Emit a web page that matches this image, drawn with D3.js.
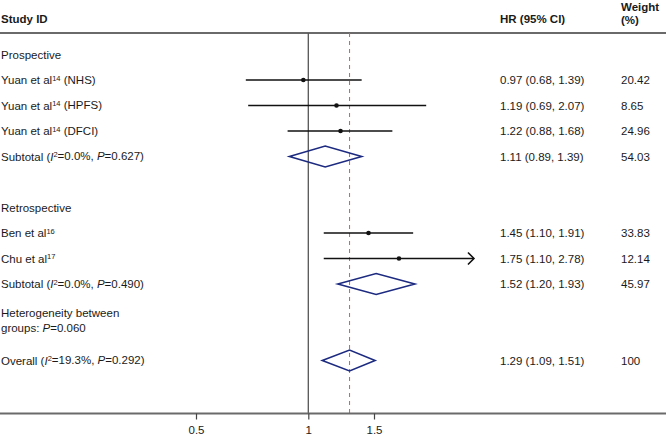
<!DOCTYPE html>
<html><head><meta charset="utf-8">
<script src="https://cdn.jsdelivr.net/npm/d3@7"></script>
<style>
body{margin:0;background:#fff;}
svg text{font-family:"Liberation Sans",Arial,sans-serif;font-size:11.5px;fill:#1a1a1a;}
</style></head>
<body><svg id="c" width="666" height="435"></svg>
<script>
// Studies: label parts (text, style), row, HR, lower, upper, weight
const studyLabels = [
  [["Yuan et al",""],["14","sup"],[" (NHS)",""]],
  [["Yuan et al",""],["14","sup"],[" (HPFS)",""]],
  [["Yuan et al",""],["14","sup"],[" (DFCI)",""]],
  [["Ben et al",""],["16","sup"]],
  [["Chu et al",""],["17","sup"]]
];
const studyRows = [1, 2, 3, 7, 8];
const studyHR = [0.97, 1.19, 1.22, 1.45, 1.75];
const studyLo = [0.68, 0.69, 0.88, 1.10, 1.10];
const studyHi = [1.39, 2.07, 1.68, 1.91, 2.78];
const studyWeight = ["20.42", "8.65", "24.96", "33.83", "12.14"];

const poolLabels = [
  [["Subtotal (",""],["I","it"],["2","sup"],["=0.0%, ",""],["P","it"],["=0.627)",""]],
  [["Subtotal (",""],["I","it"],["2","sup"],["=0.0%, ",""],["P","it"],["=0.490)",""]],
  [["Overall (",""],["I","it"],["2","sup"],["=19.3%, ",""],["P","it"],["=0.292)",""]]
];
const poolRows = [4, 9, 12];
const poolHR = [1.11, 1.52, 1.29];
const poolLo = [0.89, 1.20, 1.09];
const poolHi = [1.39, 1.93, 1.51];
const poolWeight = ["54.03", "45.97", "100"];

const groupLabels = ["Prospective", "Retrospective"];
const groupRows = [0, 6];

const tickValues = [0.5, 1, 1.5];
const overallEffect = 1.29;

const svg = d3.select("#c");
const W = 666;
const x = d3.scaleLog().domain([0.5, 1.5]).range([196, 374]);
const y = d3.scaleLinear().domain([0, 12]).range([54.5, 360.5]);
const topY = 33, axisY = 413.5;
const colHR = 500, colW = 621;
const f2 = v => v.toFixed(2);

function richText(g, parts, xx, yy) {
  const t = g.append("text").attr("x", xx).attr("y", yy).attr("dy", "0.35em");
  parts.forEach(([s, st]) => {
    const ts = t.append("tspan").text(s);
    if (st === "sup") ts.attr("font-size", "7.5px").attr("dy", "-0.45em");
    if (st === "it") ts.attr("font-style", "italic");
  });
  const spans = t.selectAll("tspan").nodes();
  for (let i = 1; i < spans.length; i++) {
    if (parts[i-1][1] === "sup" && parts[i][1] !== "sup") d3.select(spans[i]).attr("dy", "0.29em");
  }
  return t;
}

// headers
svg.append("text").attr("x", 1).attr("y", 19).attr("dy","0.35em").attr("font-weight","bold").text("Study ID");
svg.append("text").attr("x", colHR).attr("y", 19).attr("dy","0.35em").attr("font-weight","bold").text("HR (95% CI)");
svg.append("text").attr("x", colW).attr("y", 7).attr("dy","0.35em").attr("font-weight","bold").text("Weight");
svg.append("text").attr("x", colW).attr("y", 20).attr("dy","0.35em").attr("font-weight","bold").text("(%)");

svg.append("line").attr("x1",0).attr("x2",W).attr("y1",topY).attr("y2",topY).attr("stroke","#6a6a6a").attr("stroke-width",1.8);

// null line
svg.append("line").attr("x1",x(1)).attr("x2",x(1)).attr("y1",topY).attr("y2",axisY).attr("stroke","#555").attr("stroke-width",1.3);
// overall dashed line
svg.append("line").attr("x1",x(overallEffect)).attr("x2",x(overallEffect)).attr("y1",topY).attr("y2",axisY)
  .attr("stroke","#c0606a").attr("stroke-width",1).attr("stroke-dasharray","4,4");

// group labels
groupLabels.forEach((g,i)=>{
  svg.append("text").attr("x",1).attr("y",y(groupRows[i])).attr("dy","0.35em").text(g);
});

// studies
const arrowMax = 2.78;
studyLabels.forEach((lab,i)=>{
  const yy = y(studyRows[i]);
  richText(svg, lab, 1, yy);
  const hi = Math.min(studyHi[i], arrowMax);
  svg.append("line").attr("x1",x(studyLo[i])).attr("x2",x(hi)).attr("y1",yy).attr("y2",yy)
    .attr("stroke","#111").attr("stroke-width",1.6);
  if (i === 4) {
    const xe = x(hi);
    svg.append("path").attr("d",`M${xe-6},${yy-6}L${xe},${yy}L${xe-6},${yy+6}`)
      .attr("fill","none").attr("stroke","#111").attr("stroke-width",1.6);
  }
  svg.append("circle").attr("cx",x(studyHR[i])).attr("cy",yy).attr("r",2.3).attr("fill","#111");
  svg.append("text").attr("x",colHR).attr("y",yy).attr("dy","0.35em")
    .text(`${f2(studyHR[i])} (${f2(studyLo[i])}, ${f2(studyHi[i])})`);
  svg.append("text").attr("x",colW).attr("y",yy).attr("dy","0.35em").text(studyWeight[i]);
});

// pooled
poolLabels.forEach((lab,i)=>{
  const yy = y(poolRows[i]);
  richText(svg, lab, 1, yy);
  const h = 10.5;
  svg.append("path").attr("d",`M${x(poolLo[i])},${yy}L${x(poolHR[i])},${yy-h}L${x(poolHi[i])},${yy}L${x(poolHR[i])},${yy+h}Z`)
    .attr("fill","none").attr("stroke","#1c2a80").attr("stroke-width",1.6);
  svg.append("text").attr("x",colHR).attr("y",yy).attr("dy","0.35em")
    .text(`${f2(poolHR[i])} (${f2(poolLo[i])}, ${f2(poolHi[i])})`);
  svg.append("text").attr("x",colW).attr("y",yy).attr("dy","0.35em").text(poolWeight[i]);
});

// heterogeneity
svg.append("text").attr("x",1).attr("y",313).attr("dy","0.35em").text("Heterogeneity between");
const ht = svg.append("text").attr("x",1).attr("y",328).attr("dy","0.35em");
ht.append("tspan").text("groups: ");
ht.append("tspan").attr("font-style","italic").text("P");
ht.append("tspan").text("=0.060");

// axis
svg.append("line").attr("x1",0).attr("x2",W).attr("y1",axisY).attr("y2",axisY).attr("stroke","#6a6a6a").attr("stroke-width",1.8);
const ax = svg.append("g").attr("transform",`translate(0,${axisY})`)
  .call(d3.axisBottom(x).tickValues(tickValues).tickFormat(d3.format("")).tickSize(6).tickPadding(6));
ax.select(".domain").remove();
ax.selectAll("line").attr("stroke","#444").attr("stroke-width",1.2);
ax.selectAll("text").attr("font-size","11.5px").attr("fill","#1a1a1a").attr("font-family","Liberation Sans, Arial, sans-serif");
</script></body></html>
